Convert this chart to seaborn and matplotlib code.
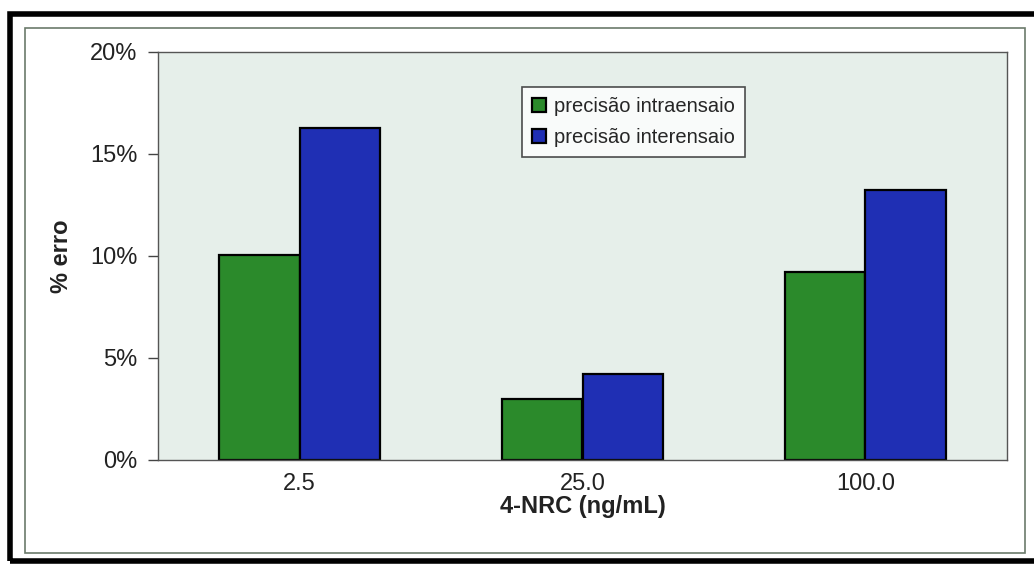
import matplotlib
matplotlib.use("Agg")
import matplotlib.pyplot as plt
import seaborn as sns
import pandas as pd
from matplotlib.patches import Rectangle
from matplotlib.ticker import FuncFormatter, FixedLocator

categories = ["2.5", "25.0", "100.0"]
series_names = ["precisão intraensaio", "precisão interensaio"]
intra = [10.05, 3.0, 9.2]
inter = [16.25, 4.2, 13.25]
y_ticks = [0, 5, 10, 15, 20]

df = pd.DataFrame({
    "conc": categories * 2,
    "serie": [series_names[0]] * 3 + [series_names[1]] * 3,
    "erro": intra + inter,
})

sns.set_theme(style="white")
plt.rcParams["font.family"] = ["Liberation Sans", "DejaVu Sans"]

fig = plt.figure(figsize=(10.34, 5.65), dpi=100)
fig.patch.set_facecolor("white")
ax = fig.add_axes([158 / 1034, 1 - 460 / 565, (1007 - 158) / 1034, (460 - 52) / 565])
ax.set_facecolor("#e6efea")

palette = {series_names[0]: "#2b8a2b", series_names[1]: "#1f2fb4"}
sns.barplot(data=df, x="conc", y="erro", hue="serie", order=categories,
            hue_order=series_names, palette=palette, width=0.57,
            edgecolor="black", linewidth=1.6, saturation=1, ax=ax)

ax.set_ylim(0, 20)
ax.set_xlim(-0.5, 2.5)
ax.yaxis.set_major_locator(FixedLocator(y_ticks))
ax.yaxis.set_major_formatter(FuncFormatter(lambda v, p: f"{v:.0f}%"))
ax.set_xticks(range(len(categories)))
ax.set_xticklabels(categories)
ax.xaxis.set_minor_locator(FixedLocator([-0.5, 0.5, 1.5, 2.5]))
ax.tick_params(axis="x", which="major", length=0, pad=9, labelsize=17, colors="#222222")
ax.tick_params(axis="x", which="minor", length=7, width=1, color="#444444", direction="out")
ax.tick_params(axis="y", which="major", length=7, width=1, color="#444444", direction="out",
               labelsize=17, labelcolor="#222222", pad=8, left=True)

for s in ax.spines.values():
    s.set_visible(True)
    s.set_color("#555555")
    s.set_linewidth(1.0)

ax.set_xlabel("4-NRC (ng/mL)", fontsize=17, fontweight="bold", color="#222222", labelpad=0)
ax.set_ylabel("% erro", fontsize=17, fontweight="bold", color="#222222", labelpad=12)

leg = ax.legend(loc="upper left", bbox_to_anchor=((522 - 158) / 849, 1 - (87 - 52) / 408),
                frameon=True, fancybox=False, edgecolor="#222222", fontsize=14.5,
                handlelength=0.7, handleheight=0.7, handletextpad=0.4,
                borderpad=0.5, labelspacing=0.6, borderaxespad=0)
leg.get_frame().set_linewidth(1.2)
leg.get_frame().set_facecolor("white")

# outer frames
fig.patches.append(Rectangle((25 / 1034, 1 - 553 / 565), 1000 / 1034, 525 / 565,
                             transform=fig.transFigure, fill=False,
                             edgecolor="#6b7a6b", linewidth=1.2))
fig.patches.append(Rectangle((10 / 1034, 1 - 561 / 565), 1030 / 1034, 547 / 565,
                             transform=fig.transFigure, fill=False,
                             edgecolor="black", linewidth=4))

fig.savefig("out.png", dpi=100)
